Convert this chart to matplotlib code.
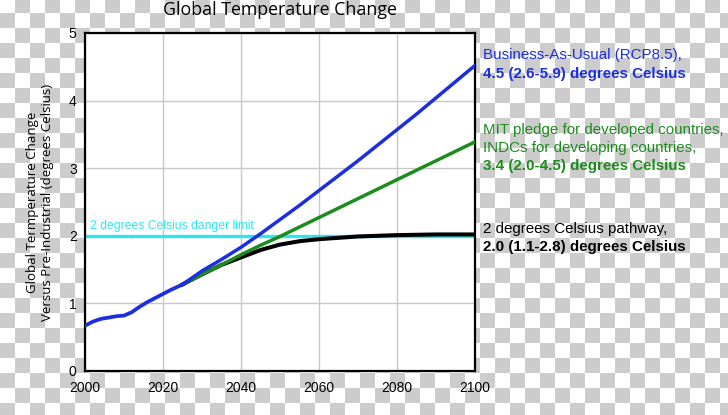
"""
Global temperature change projections to 2100 under three pathways,
redrawn on a transparent-style checkerboard background.
"""

import numpy as np
import matplotlib
matplotlib.use('Agg')
import matplotlib.pyplot as plt

# ---------------------------------------------------------------------------
# Observed / shared part of the record (all three pathways follow it)
YEARS_HIST = [2000, 2002, 2004, 2006, 2008, 2010, 2012, 2014, 2016, 2018,
              2020, 2022, 2025]
TEMP_HIST  = [0.67, 0.73, 0.77, 0.79, 0.81, 0.82, 0.87, 0.95, 1.02, 1.08,
              1.14, 1.20, 1.28]

# Business-as-usual (RCP8.5)
YEARS_BAU = [2025, 2030, 2035, 2040, 2045, 2050, 2055, 2060, 2065, 2070,
             2075, 2080, 2085, 2090, 2095, 2100]
TEMP_BAU  = [1.28, 1.48, 1.65, 1.83, 2.03, 2.24, 2.45, 2.67, 2.89, 3.11,
             3.34, 3.57, 3.80, 4.04, 4.28, 4.52]

# MIT pledge / INDCs
YEARS_MIT = [2025, 2030, 2035, 2040, 2045, 2050, 2055, 2060, 2065, 2070,
             2075, 2080, 2085, 2090, 2095, 2100]
TEMP_MIT  = [1.28, 1.43, 1.57, 1.72, 1.86, 1.99, 2.13, 2.27, 2.41, 2.55,
             2.69, 2.83, 2.97, 3.11, 3.25, 3.39]

# 2 degree pathway
YEARS_2C = [2025, 2030, 2035, 2040, 2045, 2050, 2055, 2060, 2065, 2070,
            2080, 2090, 2100]
TEMP_2C  = [1.28, 1.43, 1.57, 1.68, 1.79, 1.87, 1.92, 1.95, 1.97, 1.99,
            2.01, 2.02, 2.02]

DANGER_LIMIT = 2.0

X_TICKS = [2000, 2020, 2040, 2060, 2080, 2100]
Y_TICKS = [0, 1, 2, 3, 4, 5]

LABEL_BAU = ['Business-As-Usual (RCP8.5),', '4.5 (2.6-5.9) degrees Celsius']
LABEL_MIT = ['MIT pledge for developed countries,',
             'INDCs for developing countries,',
             '3.4 (2.0-4.5) degrees Celsius']
LABEL_2C  = ['2 degrees Celsius pathway,', '2.0 (1.1-2.8) degrees Celsius']
# ---------------------------------------------------------------------------

W, H, DPI = 728, 415, 100
C_BLUE  = '#1b2ee0'
C_GREEN = '#1c8c1c'
C_CYAN  = '#30e6ee'
SANS    = ['Liberation Sans', 'DejaVu Sans']
HUMAN   = ['Open Sans', 'DejaVu Sans']


def checkerboard(w, h, size=15, yoff=2):
    yy, xx = np.mgrid[0:h, 0:w]
    odd = (((yy + yoff) // size + xx // size) % 2) == 1
    img = np.ones((h, w, 3))
    img[odd] = 0.80
    return img


def main():
    fig = plt.figure(figsize=(W / DPI, H / DPI), dpi=DPI)
    fig.patch.set_alpha(0)
    fig.figimage(checkerboard(W, H), xo=0, yo=0, origin='upper', zorder=0)

    ax = fig.add_axes([85 / W, 1 - 371 / H, 390 / W, 338 / H])
    ax.set_zorder(2)
    ax.set_facecolor('white')

    ax.axhline(DANGER_LIMIT, color=C_CYAN, lw=2.4, zorder=2)
    ax.plot(YEARS_HIST, TEMP_HIST, color=C_BLUE, lw=2.7, zorder=6)
    ax.plot(YEARS_2C, TEMP_2C, color='black', lw=2.9, zorder=3)
    ax.plot(YEARS_MIT, TEMP_MIT, color=C_GREEN, lw=2.5, zorder=4)
    ax.plot(YEARS_BAU, TEMP_BAU, color=C_BLUE, lw=2.5, zorder=5)

    ax.text(2001.3, DANGER_LIMIT + 0.05, '2 degrees Celsius danger limit',
            color=C_CYAN, fontsize=8.7, family=SANS, va='bottom', zorder=7)

    ax.set_xlim(2000, 2100)
    ax.set_ylim(0, 5)
    ax.set_xticks(X_TICKS)
    ax.set_yticks(Y_TICKS)
    ax.grid(True, color='#c8c8c8', lw=1.0, zorder=1)
    ax.set_axisbelow(True)
    ax.tick_params(length=0, labelsize=10, pad=6)
    ax.tick_params(axis='x', pad=7)
    for lab in ax.get_xticklabels() + ax.get_yticklabels():
        lab.set_family(SANS)
    for sp in ax.spines.values():
        sp.set_linewidth(1.6)
        sp.set_color('black')

    ax.set_title('Global Temperature Change', family=HUMAN, fontsize=12.8,
                 pad=13)
    ax.set_ylabel('Global Termperature Change\nVersus Pre-Industrial (degrees Celsius)',
                  family=HUMAN, fontsize=9.5, labelpad=11, linespacing=1.15)

    # ---- right-hand annotations (last line of each block in bold) ----
    x_txt = 483 / W
    blocks = ((LABEL_BAU, [59.3, 77.7], C_BLUE),
              (LABEL_MIT, [134.0, 151.7, 170.0], C_GREEN),
              (LABEL_2C, [232.7, 250.7], 'black'))
    for lines, baselines, col in blocks:
        for k, (line, yb) in enumerate(zip(lines, baselines)):
            bold = k == len(lines) - 1
            fig.text(x_txt, 1 - yb / H, line, color=col, fontsize=10.9,
                     family=SANS, weight='bold' if bold else 'normal',
                     va='baseline', zorder=3)

    fig.savefig('out.png', dpi=DPI, facecolor=fig.get_facecolor())
    plt.close(fig)


if __name__ == '__main__':
    main()
